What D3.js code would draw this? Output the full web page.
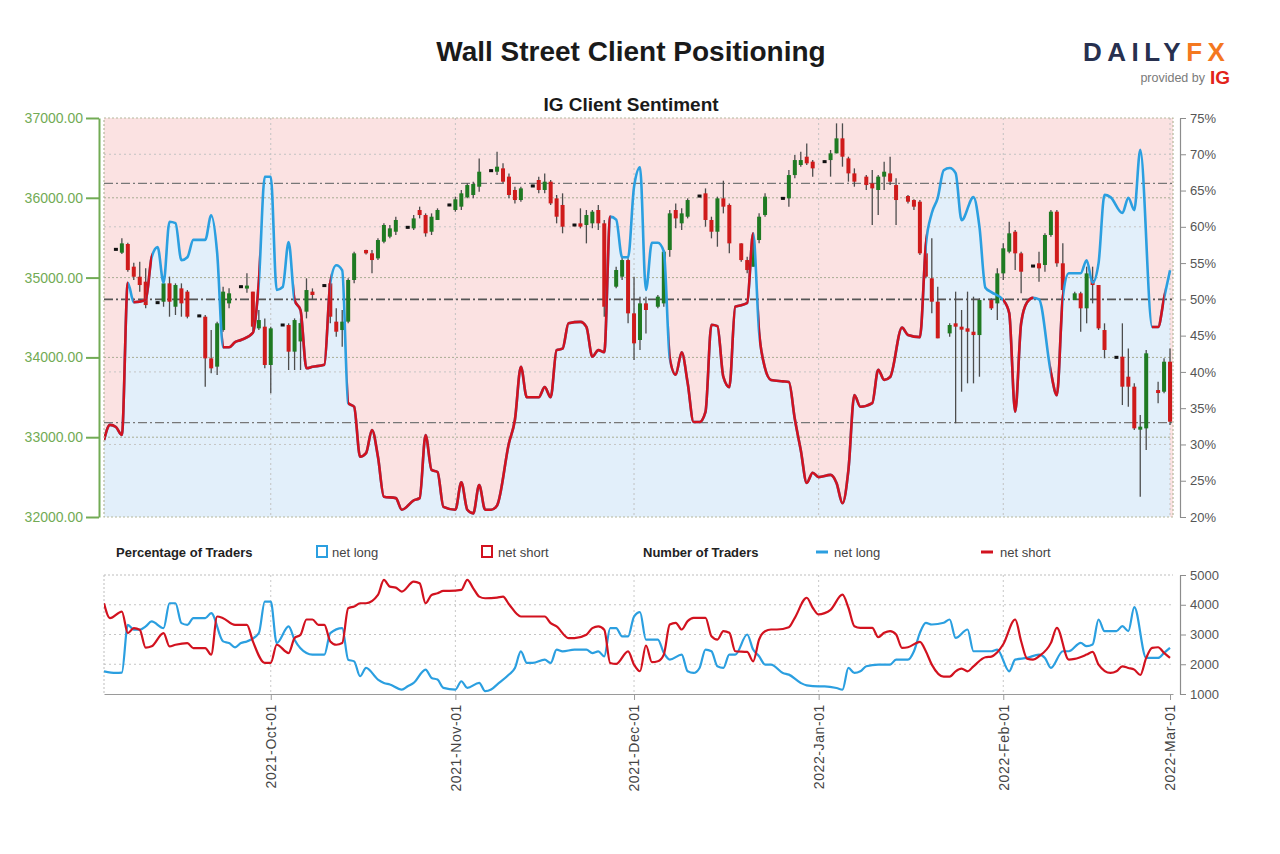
<!DOCTYPE html>
<html>
<head>
<meta charset="utf-8">
<script src="https://cdn.jsdelivr.net/npm/d3@7"></script>
<style>
  body { margin: 0; background: #ffffff; }
  svg { display: block; }
  text { font-family: "Liberation Sans", Arial, sans-serif; }
</style>
</head>
<body>
<svg id="chart" width="1280" height="854"></svg>
<script>
// ---------------- DATA ----------------
const chartTitle = "Wall Street Client Positioning";
const chartSubtitle = "IG Client Sentiment";

// IG client sentiment: % of traders net long
const sentDates = [
"2021-09-03","2021-09-04","2021-09-05","2021-09-06","2021-09-07","2021-09-08","2021-09-10","2021-09-11","2021-09-12","2021-09-13","2021-09-14","2021-09-15","2021-09-16","2021-09-17","2021-09-18","2021-09-20","2021-09-21","2021-09-22","2021-09-23","2021-09-24","2021-09-25","2021-09-26","2021-09-28","2021-09-29","2021-09-30",
"2021-10-01","2021-10-02","2021-10-03","2021-10-04","2021-10-05","2021-10-06","2021-10-07","2021-10-08","2021-10-10","2021-10-11","2021-10-12","2021-10-13","2021-10-14","2021-10-15","2021-10-16","2021-10-17","2021-10-18","2021-10-19","2021-10-20","2021-10-22","2021-10-23","2021-10-25","2021-10-26","2021-10-27","2021-10-28","2021-10-29","2021-10-30",
"2021-11-01","2021-11-02","2021-11-03","2021-11-04","2021-11-05","2021-11-06","2021-11-07","2021-11-08","2021-11-10","2021-11-11","2021-11-12","2021-11-13","2021-11-15","2021-11-16","2021-11-17","2021-11-18","2021-11-19","2021-11-20","2021-11-22","2021-11-23","2021-11-24","2021-11-25","2021-11-26","2021-11-27","2021-11-28","2021-11-29","2021-11-30",
"2021-12-01","2021-12-02","2021-12-03","2021-12-04","2021-12-05","2021-12-06","2021-12-07","2021-12-08","2021-12-09","2021-12-10","2021-12-11","2021-12-12","2021-12-13","2021-12-14","2021-12-15","2021-12-16","2021-12-17","2021-12-18","2021-12-19","2021-12-20","2021-12-21","2021-12-22","2021-12-23","2021-12-24","2021-12-26","2021-12-27","2021-12-28","2021-12-29","2021-12-30","2021-12-31",
"2022-01-01","2022-01-03","2022-01-04","2022-01-05","2022-01-06","2022-01-07","2022-01-08","2022-01-10","2022-01-11","2022-01-12","2022-01-13","2022-01-15","2022-01-16","2022-01-18","2022-01-19","2022-01-20","2022-01-21","2022-01-22","2022-01-23","2022-01-24","2022-01-25","2022-01-27","2022-01-28","2022-01-29","2022-01-30",
"2022-02-01","2022-02-02","2022-02-03","2022-02-04","2022-02-05","2022-02-06","2022-02-07","2022-02-09","2022-02-10","2022-02-11","2022-02-12","2022-02-14","2022-02-15","2022-02-16","2022-02-17","2022-02-18","2022-02-19","2022-02-21","2022-02-22","2022-02-23","2022-02-24","2022-02-26","2022-02-27","2022-02-28","2022-03-01"];
const sentNetLong = [
30.6,32.7,32.4,31.3,52.3,49.6,49.9,55.8,57.2,52.3,60.7,60.5,55.4,55.8,58.2,58.2,61.6,56.4,43.4,43.4,44.1,44.4,45.4,52.4,66.9,
66.9,51.3,51.7,57.9,49.9,48.5,40.5,40.7,41.0,52.3,54.7,54.0,35.7,35.2,28.3,28.8,32.0,28.3,22.8,22.6,21.0,22.3,22.6,31.3,26.5,26.2,21.4,
21.0,24.8,21.0,20.5,24.4,21.0,21.0,21.6,30.2,33.4,40.7,36.5,36.5,37.9,36.5,43.0,43.2,46.7,46.9,46.2,42.1,43.0,42.7,61.4,61.0,55.8,55.8,
65.5,68.2,51.3,57.8,57.8,56.6,41.9,39.6,42.7,38.5,33.1,33.1,34.5,46.5,46.3,39.3,37.9,49.0,49.2,49.5,59.1,45.5,40.5,38.9,38.7,38.6,33.5,29.2,24.7,26.1,
25.5,25.8,24.7,21.9,26.5,36.8,35.2,35.7,40.3,38.9,39.3,46.1,45.1,44.8,57.5,61.9,64.0,67.8,68.1,67.4,60.9,64.1,60.0,51.6,51.0,
49.9,48.1,34.5,46.7,49.6,50.2,50.0,39.9,36.8,50.3,53.6,53.6,55.4,52.3,55.0,64.4,64.1,61.9,64.0,62.3,70.6,46.2,46.2,50.2,54.0];

// Wall Street daily candles
const candleDates = [
"2021-09-05","2021-09-06","2021-09-07","2021-09-08","2021-09-09","2021-09-10","2021-09-12","2021-09-13","2021-09-14","2021-09-15","2021-09-16","2021-09-17",
"2021-09-19","2021-09-20","2021-09-21","2021-09-22","2021-09-23","2021-09-24","2021-09-26","2021-09-27","2021-09-28","2021-09-29","2021-09-30","2021-10-01",
"2021-10-03","2021-10-04","2021-10-05","2021-10-06","2021-10-07","2021-10-08","2021-10-10","2021-10-11","2021-10-12","2021-10-13","2021-10-14","2021-10-15",
"2021-10-17","2021-10-18","2021-10-19","2021-10-20","2021-10-21","2021-10-22","2021-10-24","2021-10-25","2021-10-26","2021-10-27","2021-10-28","2021-10-29",
"2021-10-31","2021-11-01","2021-11-02","2021-11-03","2021-11-04","2021-11-05","2021-11-07","2021-11-08","2021-11-09","2021-11-10","2021-11-11","2021-11-12",
"2021-11-14","2021-11-15","2021-11-16","2021-11-17","2021-11-18","2021-11-19","2021-11-21","2021-11-22","2021-11-23","2021-11-24","2021-11-25","2021-11-26",
"2021-11-28","2021-11-29","2021-11-30","2021-12-01","2021-12-02","2021-12-03","2021-12-05","2021-12-06","2021-12-07","2021-12-08","2021-12-09","2021-12-10",
"2021-12-12","2021-12-13","2021-12-14","2021-12-15","2021-12-16","2021-12-17","2021-12-19","2021-12-20","2021-12-21","2021-12-22","2021-12-23",
"2021-12-26","2021-12-27","2021-12-28","2021-12-29","2021-12-30","2021-12-31","2022-01-02","2022-01-03","2022-01-04","2022-01-05","2022-01-06","2022-01-07",
"2022-01-09","2022-01-10","2022-01-11","2022-01-12","2022-01-13","2022-01-14","2022-01-16","2022-01-17","2022-01-18","2022-01-19","2022-01-20","2022-01-21",
"2022-01-23","2022-01-24","2022-01-25","2022-01-26","2022-01-27","2022-01-28","2022-01-30","2022-01-31","2022-02-01","2022-02-02","2022-02-03","2022-02-04",
"2022-02-06","2022-02-07","2022-02-08","2022-02-09","2022-02-10","2022-02-11","2022-02-13","2022-02-14","2022-02-15","2022-02-16","2022-02-17","2022-02-18",
"2022-02-20","2022-02-21","2022-02-22","2022-02-23","2022-02-24","2022-02-25","2022-02-27","2022-02-28","2022-03-01"];
const candleOpen = [
35354,35312,35421,35137,35011,34949,34686,34698,34928,34635,34865,34824,
34520,34510,33988,33884,34343,34677,34886,34865,34824,34364,34385,33905,
34406,34406,34072,34200,34573,34824,34900,34928,34448,34343,34448,34970,
35346,35304,35241,35450,35513,35575,35630,35617,35847,35784,35575,35722,
35910,35847,35889,36006,36035,36139,36340,36327,36369,36265,36098,35972,
36148,36223,36098,36202,35993,35910,35659,35680,35659,35680,35847,35680,
34886,35012,35220,34552,34218,34677,34635,34677,35346,35847,35680,35763,
36022,36056,35722,35575,35993,35910,35429,35220,35137,35471,35784,
35993,35993,36285,36411,36515,36453,36453,36473,36557,36745,36494,36306,
36265,36181,36098,36265,36306,36160,36022,35972,35951,35304,34991,34698,
34301,34427,34385,34364,34322,34280,34719,34677,35053,35325,35575,35304,
35145,35179,35158,35534,35826,35179,34719,34803,34615,34970,34907,34343,
34001,34009,33758,33633,33111,33111,33591,33570,33946];
const candleHigh = [
35370,35492,35438,35187,35200,35116,34700,35012,35012,34928,34928,34844,
34534,34531,34343,34448,34886,34865,34900,35053,34824,34594,34489,34385,
34420,34427,34489,34489,34991,34865,34914,34970,34615,34594,34991,35325,
35350,35346,35492,35680,35659,35763,35644,35784,35889,35805,35805,35868,
35924,36014,36098,36181,36202,36494,36354,36578,36432,36306,36139,36139,
36162,36265,36306,36223,36035,36056,35673,35868,35847,35847,35910,35722,
35137,35262,35241,35012,34761,34761,34782,35346,35847,35930,35868,35993,
36036,36118,35763,36014,36214,35930,35429,35262,35513,35805,36056,
36007,36348,36536,36578,36682,36473,36467,36599,36933,36933,36515,36369,
36285,36348,36285,36453,36515,36244,36035,35981,35972,35492,35492,34886,
34427,34824,34594,34824,34761,34740,34740,35116,35429,35701,35596,35325,
35159,35325,35555,35847,35847,35429,34824,34824,35137,35137,34907,34427,
34015,34427,34113,33675,33278,34093,33696,33988,34113];
const candleLow = [
35340,35296,35074,34970,34824,34615,34672,34635,34510,34531,34510,34489,
34506,33633,33800,33779,34322,34615,34872,34810,34322,34343,33863,33550,
34392,33842,33842,33842,34489,34719,34886,34427,34260,34134,34427,34928,
35290,35053,35220,35429,35492,35534,35616,35596,35742,35513,35534,35722,
35896,35826,35847,35993,35993,36077,36326,36285,36181,35993,35930,35951,
36134,36056,36056,35910,35680,35555,35645,35617,35429,35617,35596,34510,
34865,34970,34427,33967,34093,34301,34615,34635,35262,35617,35596,35742,
36008,35638,35492,35387,35805,35304,35200,35053,35137,35429,35763,
35979,35889,36244,36390,36411,36265,36439,36265,36557,36390,36202,36139,
36098,35659,35784,36098,36160,35659,35930,35847,35283,34991,34552,34239,
34260,33174,33570,33675,33675,33758,34594,34468,34970,35304,35095,34803,
35131,34949,35074,35513,35137,34782,34719,34322,34427,34677,34343,33988,
33987,33403,33382,33090,32255,32839,33424,33550,33153];
const candleClose = [
35354,35429,35095,35011,34907,34656,34686,34928,34698,34907,34677,34510,
34520,33988,33863,34427,34824,34803,34886,34900,34385,34468,33905,34364,
34406,34072,34468,34430,34844,34782,34900,34510,34322,34448,34970,35304,
35304,35220,35471,35659,35617,35722,35630,35742,35784,35555,35763,35847,
35910,35981,36056,36160,36173,36327,36340,36390,36202,36035,35972,36118,
36148,36098,36202,35930,35763,35638,35659,35638,35784,35826,35680,34635,
35095,35220,34552,34176,34677,34594,34761,35325,35805,35742,35805,35972,
36022,35722,35575,35993,35889,35429,35220,35095,35471,35763,36014,
35993,36285,36473,36473,36432,36369,36453,36557,36745,36515,36306,36202,
36160,36118,36265,36327,36202,35972,35951,35889,35304,35012,34698,34239,
34406,34385,34364,34322,34280,34719,34615,35053,35367,35555,35304,35074,
35145,35116,35534,35826,35179,34844,34803,34615,35053,34907,34364,34093,
34001,33633,33633,33111,33132,34051,33570,33946,33194];

// Number of traders
const longDates = [
"2021-09-03","2021-09-05","2021-09-06","2021-09-07","2021-09-08","2021-09-09","2021-09-10","2021-09-11","2021-09-13","2021-09-14","2021-09-15","2021-09-16","2021-09-17","2021-09-18","2021-09-20","2021-09-21","2021-09-23","2021-09-24","2021-09-25","2021-09-26","2021-09-27","2021-09-29","2021-09-30",
"2021-10-01","2021-10-02","2021-10-04","2021-10-05","2021-10-07","2021-10-08","2021-10-10","2021-10-11","2021-10-13","2021-10-14","2021-10-15","2021-10-16","2021-10-17","2021-10-19","2021-10-20","2021-10-21","2021-10-23","2021-10-24","2021-10-25","2021-10-27","2021-10-28","2021-10-29","2021-10-30",
"2021-11-01","2021-11-02","2021-11-03","2021-11-05","2021-11-06","2021-11-07","2021-11-08","2021-11-10","2021-11-11","2021-11-12","2021-11-13","2021-11-14","2021-11-16","2021-11-17","2021-11-18","2021-11-19","2021-11-21","2021-11-23","2021-11-24","2021-11-25","2021-11-26","2021-11-27","2021-11-28","2021-11-29","2021-11-30",
"2021-12-01","2021-12-02","2021-12-03","2021-12-05","2021-12-06","2021-12-07","2021-12-09","2021-12-10","2021-12-11","2021-12-12","2021-12-13","2021-12-14","2021-12-15","2021-12-16","2021-12-17","2021-12-18","2021-12-20","2021-12-21","2021-12-22","2021-12-23","2021-12-24","2021-12-26","2021-12-27","2021-12-29","2021-12-30",
"2022-01-01","2022-01-02","2022-01-04","2022-01-05","2022-01-06","2022-01-07","2022-01-08","2022-01-09","2022-01-11","2022-01-13","2022-01-14","2022-01-16","2022-01-17","2022-01-18","2022-01-19","2022-01-20","2022-01-22","2022-01-23","2022-01-24","2022-01-26","2022-01-27","2022-01-30","2022-01-31",
"2022-02-02","2022-02-03","2022-02-05","2022-02-07","2022-02-08","2022-02-09","2022-02-11","2022-02-12","2022-02-14","2022-02-15","2022-02-16","2022-02-17","2022-02-18","2022-02-20","2022-02-21","2022-02-22","2022-02-23","2022-02-25","2022-02-27","2022-02-28","2022-03-01"];
const longCounts = [
1764,1708,1720,3326,3159,3159,3270,3438,3214,4051,4051,3382,3326,3549,3549,3717,2768,2712,2567,2712,2768,3047,4107,
4107,2712,3270,2824,2377,2322,2322,3047,3214,2154,2098,1596,1875,1485,1373,1317,1150,1261,1373,1819,1540,1485,1206,
1150,1429,1206,1373,1095,1150,1317,1652,1875,2433,2043,2043,2154,2043,2489,2433,2489,2489,2377,2433,2266,3214,3214,2935,2935,
3605,3750,2831,2831,2381,2156,2325,1763,1707,1876,2494,2437,1931,1876,2325,2325,3000,2494,2269,1988,1988,1707,1651,1370,1291,
1256,1256,1200,1144,1876,1707,1763,1931,1988,1988,2156,2156,2437,3056,3393,3336,3393,3505,2887,3168,2437,2437,2494,
1763,2156,2213,2325,2213,1876,2437,2437,2718,2606,2662,3505,3112,3112,3280,3112,3921,2213,2213,2381,2550];

const shortDates = [
"2021-09-03","2021-09-04","2021-09-06","2021-09-07","2021-09-08","2021-09-09","2021-09-10","2021-09-11","2021-09-13","2021-09-14","2021-09-15","2021-09-17","2021-09-18","2021-09-20","2021-09-21","2021-09-22","2021-09-23","2021-09-25","2021-09-27","2021-09-28","2021-09-30",
"2021-10-01","2021-10-02","2021-10-04","2021-10-05","2021-10-06","2021-10-07","2021-10-08","2021-10-09","2021-10-10","2021-10-11","2021-10-12","2021-10-13","2021-10-14","2021-10-15","2021-10-16","2021-10-17","2021-10-19","2021-10-20","2021-10-21","2021-10-22","2021-10-23","2021-10-25","2021-10-26","2021-10-27","2021-10-28","2021-10-29","2021-10-30","2021-10-31",
"2021-11-02","2021-11-03","2021-11-04","2021-11-05","2021-11-06","2021-11-08","2021-11-09","2021-11-10","2021-11-12","2021-11-16","2021-11-17","2021-11-18","2021-11-20","2021-11-21","2021-11-23","2021-11-24","2021-11-25","2021-11-26","2021-11-27","2021-11-28","2021-11-30",
"2021-12-01","2021-12-02","2021-12-03","2021-12-04","2021-12-05","2021-12-06","2021-12-07","2021-12-08","2021-12-09","2021-12-10","2021-12-11","2021-12-13","2021-12-14","2021-12-15","2021-12-16","2021-12-17","2021-12-18","2021-12-20","2021-12-21","2021-12-22","2021-12-23","2021-12-24","2021-12-25","2021-12-27","2021-12-28","2021-12-30","2021-12-31",
"2022-01-01","2022-01-02","2022-01-03","2022-01-05","2022-01-06","2022-01-07","2022-01-08","2022-01-10","2022-01-11","2022-01-12","2022-01-13","2022-01-14","2022-01-15","2022-01-16","2022-01-18","2022-01-19","2022-01-20","2022-01-22","2022-01-23","2022-01-24","2022-01-25","2022-01-26","2022-01-27","2022-01-29","2022-01-30","2022-01-31",
"2022-02-01","2022-02-03","2022-02-04","2022-02-05","2022-02-06","2022-02-07","2022-02-09","2022-02-10","2022-02-12","2022-02-13","2022-02-15","2022-02-16","2022-02-17","2022-02-19","2022-02-20","2022-02-21","2022-02-22","2022-02-23","2022-02-24","2022-02-25","2022-02-26","2022-02-27","2022-02-28","2022-03-01"];
const shortCounts = [
4051,3549,3772,3047,3214,3159,2556,2601,3047,2601,2656,2712,2544,2544,2322,3605,3549,3326,3326,2768,2043,
2043,2656,2377,2880,2991,3505,3505,3326,3326,2768,2656,2712,3884,3940,4051,4051,4330,4833,4610,4576,4442,4777,4721,4051,4330,4386,4464,4464,
4498,4833,4554,4274,4219,4241,4274,4018,3605,3605,3382,3270,2880,2880,2991,3214,3270,3159,2043,2010,2433,
1987,1764,2630,2070,2100,2325,3336,3393,3168,3449,3561,3561,2943,2831,3112,3056,2437,2415,2100,2831,3112,3168,3168,3247,3561,4236,3899,
3674,3719,3831,4337,3899,3280,3224,3224,2910,3056,3112,2999,2550,2572,2752,2437,1988,1583,1583,1763,1853,1763,1931,2235,2257,2403,
2673,3505,2774,2190,2156,2269,2718,3224,2156,2179,2325,2415,1988,1707,1763,1931,1876,1819,1639,2213,2550,2572,2381,2213];

const priceTicks = [32000, 33000, 34000, 35000, 36000, 37000];
const pctTicks = [20, 25, 30, 35, 40, 45, 50, 55, 60, 65, 70, 75];
const pctGrid = [30, 40, 60, 70];
const sentimentLevels = [66, 50, 33];
const countTicks = [1000, 2000, 3000, 4000, 5000];
const monthTicks = ["2021-10-01","2021-11-01","2021-12-01","2022-01-01","2022-02-01","2022-03-01"];
const legendLabels = ["Percentage of Traders", "net long", "net short", "Number of Traders", "net long", "net short"];

// ---------------- DRAW ----------------
const parse = d3.timeParse("%Y-%m-%d");
const svg = d3.select("#chart");
const defs = svg.append("defs");
const COL = {
  pink: "#fbe2e2", blueFill: "#e2effa", red: "#d2121f", blue: "#2b9fe0",
  green: "#1f7a22", cRed: "#cf1b1b", wick: "#4d4d4d", axisGreen: "#72ab55",
  axisGray: "#8c8c8c", text: "#4a4a4a"
};
const P = { l: 104, r: 1173, t: 118, b: 517 };
const B = { t: 575, b: 694 };

const x = d3.scaleTime()
  .domain([parse("2021-09-03"), d3.timeHour.offset(parse("2022-03-01"), 12)])
  .range([P.l, P.r]);
const yPrice = d3.scaleLinear().domain([32000, 37000]).range([P.b, P.t]);
const yPct = d3.scaleLinear().domain([20, 75]).range([P.b, P.t]);
const yCnt = d3.scaleLinear().domain([1000, 5000]).range([B.b, B.t]);
const months = monthTicks.map(parse);

// Title / subtitle
svg.append("text").attr("x", 631).attr("y", 61).attr("text-anchor", "middle")
  .attr("font-size", 28).attr("font-weight", "bold").attr("fill", "#1a1a1a").text(chartTitle);
svg.append("text").attr("x", 631).attr("y", 111).attr("text-anchor", "middle")
  .attr("font-size", 19).attr("font-weight", "bold").attr("fill", "#1a1a1a").text(chartSubtitle);

// Logo
const logo = svg.append("text").attr("x", 1083).attr("y", 61).attr("font-size", 26)
  .attr("font-family", "'DejaVu Sans', sans-serif").attr("font-weight", "bold").attr("letter-spacing", 5.5);
logo.append("tspan").attr("fill", "#27304f").text("DAILY");
logo.append("tspan").attr("fill", "#f4781f").text("FX");
svg.append("text").attr("x", 1205).attr("y", 82).attr("text-anchor", "end").attr("font-size", 12.5)
  .attr("fill", "#7a7a7a").text("provided by");
svg.append("text").attr("x", 1210).attr("y", 84).attr("font-size", 19).attr("font-weight", "bold")
  .attr("fill", "#e2231a").text("IG");

// ---------- Main panel ----------
defs.append("clipPath").attr("id", "mainClip").append("rect")
  .attr("x", P.l).attr("y", P.t).attr("width", P.r - P.l).attr("height", P.b - P.t);
const main = svg.append("g").attr("clip-path", "url(#mainClip)");

const sent = sentDates.map((d, i) => ({ date: parse(d), v: sentNetLong[i] }));
main.append("rect").attr("x", P.l).attr("y", P.t).attr("width", P.r - P.l).attr("height", P.b - P.t)
  .attr("fill", COL.pink);
const area = d3.area().x(d => x(d.date)).y0(P.b).y1(d => yPct(d.v)).curve(d3.curveMonotoneX);
main.append("path").datum(sent).attr("d", area).attr("fill", COL.blueFill);

// grid
main.selectAll("line.pg").data(pctGrid).join("line")
  .attr("x1", P.l).attr("x2", P.r).attr("y1", d => yPct(d)).attr("y2", d => yPct(d))
  .attr("stroke", "#c4c4c4").attr("stroke-dasharray", "2,3").attr("stroke-width", 1);
main.selectAll("line.prg").data(priceTicks.slice(1, -1)).join("line")
  .attr("x1", P.l).attr("x2", P.r).attr("y1", d => yPrice(d)).attr("y2", d => yPrice(d))
  .attr("stroke", "#a9ad93").attr("stroke-dasharray", "2,2").attr("stroke-width", 1);
main.selectAll("line.vg").data(months).join("line")
  .attr("x1", d => x(d)).attr("x2", d => x(d)).attr("y1", P.t).attr("y2", P.b)
  .attr("stroke", "#c2c2c2").attr("stroke-dasharray", "2,3").attr("stroke-width", 1);
main.selectAll("line.lvl").data(sentimentLevels).join("line")
  .attr("x1", P.l).attr("x2", P.r).attr("y1", d => yPct(d)).attr("y2", d => yPct(d))
  .attr("stroke", d => d === 50 ? "#555" : "#777").attr("stroke-width", d => d === 50 ? 1.6 : 1.3)
  .attr("stroke-dasharray", "9,3,2,3");

// candles
const candles = candleDates.map((d, i) => ({
  date: parse(d), o: candleOpen[i], h: candleHigh[i], l: candleLow[i], c: candleClose[i]
}));
const cg = main.append("g");
cg.selectAll("line").data(candles).join("line")
  .attr("x1", d => x(d.date)).attr("x2", d => x(d.date))
  .attr("y1", d => yPrice(d.h)).attr("y2", d => yPrice(d.l))
  .attr("stroke", COL.wick).attr("stroke-width", 1.3);
cg.selectAll("rect").data(candles).join("rect")
  .attr("x", d => x(d.date) - 2).attr("width", 4)
  .attr("y", d => Math.abs(d.o - d.c) < 15 ? yPrice(d.o) - 1.5 : yPrice(Math.max(d.o, d.c)))
  .attr("height", d => Math.max(3, Math.abs(yPrice(d.o) - yPrice(d.c))))
  .attr("fill", d => Math.abs(d.o - d.c) < 15 ? "#111" : (d.c > d.o ? COL.green : COL.cRed));

// sentiment line: blue where segment starts above 50%, red below
const sline = d3.line().x(d => x(d.date)).y(d => yPct(d.v)).curve(d3.curveMonotoneX);
main.append("path").datum(sent).attr("d", sline).attr("fill", "none")
  .attr("stroke", COL.blue).attr("stroke-width", 2.6).attr("stroke-linejoin", "round");
const redClip = defs.append("clipPath").attr("id", "redClip");
sent.forEach((d, i) => {
  if (i < sent.length - 1 && d.v < 50) {
    redClip.append("rect").attr("x", x(d.date) - 0.3).attr("y", 0)
      .attr("width", x(sent[i + 1].date) - x(d.date) + 0.6).attr("height", 854);
  }
});
main.append("path").datum(sent).attr("d", sline).attr("fill", "none").attr("clip-path", "url(#redClip)")
  .attr("stroke", COL.red).attr("stroke-width", 2.6).attr("stroke-linejoin", "round");

// border
svg.append("rect").attr("x", P.l).attr("y", P.t).attr("width", P.r - P.l).attr("height", P.b - P.t)
  .attr("fill", "none").attr("stroke", "#b5b89c").attr("stroke-dasharray", "2,2").attr("stroke-width", 1.2);

// left price axis
const axL = svg.append("g").attr("transform", `translate(99,0)`)
  .call(d3.axisLeft(yPrice).tickValues(priceTicks).tickFormat(d3.format(".2f")).tickSize(13).tickSizeOuter(0).tickPadding(3));
axL.select(".domain").attr("stroke", COL.axisGreen).attr("stroke-width", 2);
axL.selectAll(".tick line").attr("stroke", COL.axisGreen).attr("stroke-width", 2);
axL.selectAll(".tick text").attr("fill", COL.axisGreen).attr("font-size", 14)
  .attr("font-family", "'Liberation Sans', Arial, sans-serif");

// right percentage axis
const axR = svg.append("g").attr("transform", `translate(1180,0)`)
  .call(d3.axisRight(yPct).tickValues(pctTicks).tickFormat(d => d + "%").tickSize(6).tickSizeOuter(0).tickPadding(4));
axR.select(".domain").attr("stroke", COL.axisGray).attr("stroke-width", 1.2);
axR.selectAll(".tick line").attr("stroke", COL.axisGray);
axR.selectAll(".tick text").attr("fill", "#555").attr("font-size", 13)
  .attr("font-family", "'Liberation Sans', Arial, sans-serif");

// ---------- Legend ----------
const lg = svg.append("g").attr("font-size", 13).attr("fill", "#222");
lg.append("text").attr("x", 116).attr("y", 557).attr("font-weight", "bold").text(legendLabels[0]);
lg.append("rect").attr("x", 317).attr("y", 546).attr("width", 10).attr("height", 11)
  .attr("fill", "#fff").attr("stroke", COL.blue).attr("stroke-width", 2);
lg.append("text").attr("x", 332).attr("y", 557).attr("fill", "#444").text(legendLabels[1]);
lg.append("rect").attr("x", 482).attr("y", 546).attr("width", 10).attr("height", 11)
  .attr("fill", "#fff").attr("stroke", COL.red).attr("stroke-width", 2);
lg.append("text").attr("x", 498).attr("y", 557).attr("fill", "#444").text(legendLabels[2]);
lg.append("text").attr("x", 643).attr("y", 557).attr("font-weight", "bold").text(legendLabels[3]);
lg.append("line").attr("x1", 816).attr("x2", 828).attr("y1", 552).attr("y2", 552)
  .attr("stroke", COL.blue).attr("stroke-width", 3);
lg.append("text").attr("x", 834).attr("y", 557).attr("fill", "#444").text(legendLabels[4]);
lg.append("line").attr("x1", 981).attr("x2", 993).attr("y1", 552).attr("y2", 552)
  .attr("stroke", COL.red).attr("stroke-width", 3);
lg.append("text").attr("x", 1000).attr("y", 557).attr("fill", "#444").text(legendLabels[5]);

// ---------- Bottom panel ----------
defs.append("clipPath").attr("id", "botClip").append("rect")
  .attr("x", P.l).attr("y", B.t - 2).attr("width", P.r - P.l).attr("height", B.b - B.t + 4);
const bot = svg.append("g");
bot.selectAll("line.hg").data(countTicks.slice(1, -1)).join("line")
  .attr("x1", P.l).attr("x2", P.r).attr("y1", d => yCnt(d)).attr("y2", d => yCnt(d))
  .attr("stroke", "#c4c4c4").attr("stroke-dasharray", "2,3");
bot.selectAll("line.vg").data(months.slice(0, -1)).join("line")
  .attr("x1", d => x(d)).attr("x2", d => x(d)).attr("y1", B.t).attr("y2", B.b)
  .attr("stroke", "#c8c8c8").attr("stroke-dasharray", "2,3");
bot.append("line").attr("x1", P.l).attr("x2", P.r).attr("y1", B.t).attr("y2", B.t)
  .attr("stroke", "#bdbdbd").attr("stroke-dasharray", "2,2");
bot.append("line").attr("x1", P.l).attr("x2", P.l).attr("y1", B.t).attr("y2", B.b)
  .attr("stroke", "#bdbdbd").attr("stroke-dasharray", "2,2");

const longPts = longDates.map((d, i) => ({ date: parse(d), v: longCounts[i] }));
const shortPts = shortDates.map((d, i) => ({ date: parse(d), v: shortCounts[i] }));
const cline = d3.line().x(d => x(d.date)).y(d => yCnt(d.v)).curve(d3.curveMonotoneX);
const lines = bot.append("g").attr("clip-path", "url(#botClip)");
lines.append("path").datum(longPts).attr("d", cline).attr("fill", "none")
  .attr("stroke", COL.blue).attr("stroke-width", 2.2).attr("stroke-linejoin", "round");
lines.append("path").datum(shortPts).attr("d", cline).attr("fill", "none")
  .attr("stroke", COL.red).attr("stroke-width", 2.2).attr("stroke-linejoin", "round");

// right count axis
const axC = svg.append("g").attr("transform", `translate(1180,0)`)
  .call(d3.axisRight(yCnt).tickValues(countTicks).tickSize(6).tickSizeOuter(0).tickPadding(4).tickFormat(d3.format("d")));
axC.select(".domain").attr("stroke", COL.axisGray).attr("stroke-width", 1.2);
axC.selectAll(".tick line").attr("stroke", COL.axisGray);
axC.selectAll(".tick text").attr("fill", "#555").attr("font-size", 13)
  .attr("font-family", "'Liberation Sans', Arial, sans-serif");

// bottom date axis
const axB = svg.append("g").attr("transform", `translate(0,${B.b})`)
  .call(d3.axisBottom(x).tickValues(months).tickFormat(d3.timeFormat("%Y-%b-%d")).tickSize(6).tickSizeOuter(0));
axB.select(".domain").attr("stroke", "#9a9a9a").attr("stroke-width", 1.2);
axB.selectAll(".tick line").attr("stroke", "#9a9a9a");
axB.selectAll(".tick text")
  .attr("font-size", 14).attr("fill", "#444").attr("letter-spacing", 0.6)
  .attr("font-family", "'Liberation Sans', Arial, sans-serif")
  .attr("text-anchor", "end").attr("dy", "0.35em")
  .attr("transform", "translate(0,10) rotate(-90)").attr("x", 0).attr("y", 0);
</script>
</body>
</html>
